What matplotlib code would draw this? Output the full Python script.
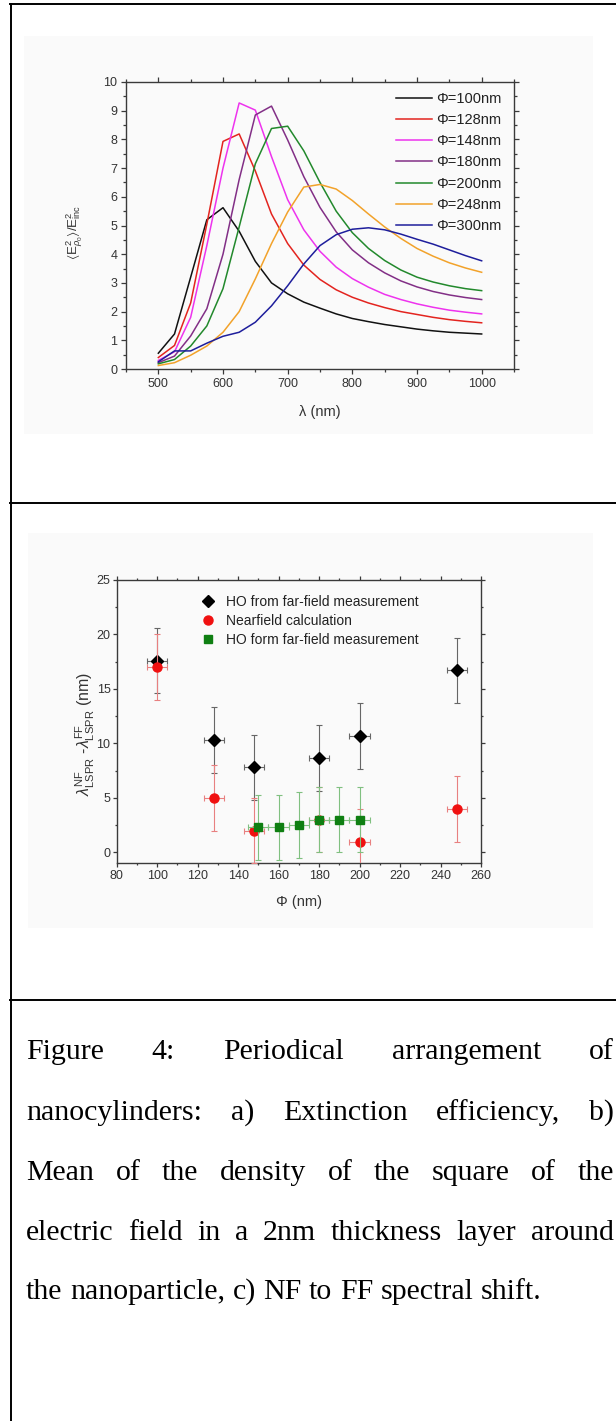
import matplotlib
matplotlib.use('Agg')
import matplotlib.pyplot as plt
from matplotlib.patches import Rectangle
from matplotlib.lines import Line2D
from matplotlib.ticker import MultipleLocator

plt.rcParams['font.family'] = ['Liberation Sans', 'DejaVu Sans']
plt.rcParams['mathtext.fontset'] = 'custom'
plt.rcParams['mathtext.rm'] = 'Liberation Sans'
plt.rcParams['mathtext.it'] = 'Liberation Sans:italic'
plt.rcParams['mathtext.bf'] = 'Liberation Sans:bold'
plt.rcParams['mathtext.fallback'] = 'stixsans'

# ---------------- data: panel (top) ----------------
wavelength = [500, 525, 550, 575, 600, 625, 650, 675, 700, 725, 750,
              775, 800, 825, 850, 875, 900, 925, 950, 975, 1000]
phi100 = [0.55, 1.22, 3.2, 5.2, 5.62, 4.8, 3.75, 3.0, 2.62, 2.33, 2.12,
          1.92, 1.76, 1.65, 1.55, 1.47, 1.39, 1.33, 1.28, 1.25, 1.22]
phi128 = [0.4, 0.82, 2.3, 5.05, 7.93, 8.19, 6.9, 5.4, 4.37, 3.62, 3.12,
          2.76, 2.5, 2.3, 2.14, 2.0, 1.9, 1.8, 1.72, 1.66, 1.61]
phi148 = [0.3, 0.6, 1.8, 4.3, 7.0, 9.27, 9.02, 7.4, 5.9, 4.85, 4.1,
          3.55, 3.15, 2.85, 2.6, 2.42, 2.27, 2.15, 2.05, 1.98, 1.92]
phi180 = [0.22, 0.45, 1.15, 2.1, 4.0, 6.6, 8.85, 9.16, 7.98, 6.7, 5.63,
          4.78, 4.15, 3.7, 3.35, 3.07, 2.86, 2.7, 2.58, 2.49, 2.42]
phi200 = [0.18, 0.33, 0.8, 1.5, 2.8, 4.95, 7.15, 8.38, 8.46, 7.6, 6.5,
          5.5, 4.75, 4.2, 3.78, 3.45, 3.2, 3.03, 2.9, 2.8, 2.73]
phi248 = [0.12, 0.22, 0.48, 0.8, 1.28, 2.0, 3.14, 4.37, 5.47, 6.34, 6.43,
          6.27, 5.87, 5.4, 4.95, 4.55, 4.2, 3.93, 3.7, 3.52, 3.37]
phi300 = [0.25, 0.63, 0.63, 0.9, 1.14, 1.28, 1.63, 2.2, 2.9, 3.66, 4.3,
          4.68, 4.87, 4.92, 4.85, 4.7, 4.52, 4.35, 4.15, 3.95, 3.77]
series_top = [phi100, phi128, phi148, phi180, phi200, phi248, phi300]
labels_top = ['Φ=100nm', 'Φ=128nm', 'Φ=148nm', 'Φ=180nm',
              'Φ=200nm', 'Φ=248nm', 'Φ=300nm']
colors_top = ['#111111', '#e3241f', '#ee33ee', '#822f86',
              '#22892c', '#f2a22a', '#1e1e9c']

# ---------------- data: panel (bottom) ----------------
ho_x = [100, 128, 148, 180, 200, 248]
ho_y = [17.6, 10.3, 7.8, 8.65, 10.7, 16.7]
ho_yerr = [3, 3, 3, 3, 3, 3]
nf_x = [100, 128, 148, 180, 200, 248]
nf_y = [17.0, 5.0, 2.0, 3.0, 1.0, 4.0]
nf_yerr = [3, 3, 3, 3, 3, 3]
ho2_x = [150, 160, 170, 180, 190, 200]
ho2_y = [2.3, 2.3, 2.5, 3.0, 3.0, 3.0]
ho2_yerr = [3, 3, 3, 3, 3, 3]
xerr_all = 5
labels_bottom = ['HO from far-field measurement', 'Nearfield calculation',
                 'HO form far-field measurement']

caption_lines = [
    "Figure 4: Periodical arrangement of",
    "nanocylinders: a) Extinction efficiency, b)",
    "Mean of the density of the square of the",
    "electric field in a 2nm thickness layer around",
    "the nanoparticle, c) NF to FF spectral shift.",
]

# ---------------- figure ----------------
W, H = 616, 1421
fig = plt.figure(figsize=(W / 100, H / 100), dpi=100)
fig.patch.set_facecolor('white')


def fx(px):
    return px / W


def fy(py):
    return 1 - py / H


# grey picture panels
for (x0, y0, x1, y1) in [(24, 36, 593, 434), (28, 533, 593, 928)]:
    fig.patches.append(Rectangle((fx(x0), fy(y1)), fx(x1) - fx(x0), fy(y0) - fy(y1),
                                 transform=fig.transFigure, facecolor='#fafafa',
                                 edgecolor='none', zorder=-5))

# table borders
blw = 1.4
fig.add_artist(Line2D([fx(10.5), fx(10.5)], [fy(4), 0], color='black', lw=blw))
for yy in [4, 503, 999.5]:
    fig.add_artist(Line2D([fx(10), 1], [fy(yy), fy(yy)], color='black', lw=blw))


def style(ax, labelsize, major_len, pad):
    for s in ax.spines.values():
        s.set_color('#3a3a3a')
        s.set_linewidth(1.0)
    ax.tick_params(which='both', direction='out', top=True, right=True,
                   colors='#3a3a3a', labelcolor='#333333', labelsize=labelsize,
                   width=0.9, pad=pad)
    ax.tick_params(which='major', length=major_len)
    ax.tick_params(which='minor', length=major_len * 0.55)
    ax.set_facecolor('none')


# ---------------- top axes ----------------
ax1 = fig.add_axes([fx(126), fy(369), fx(514) - fx(126), fy(82) - fy(369)])
for ys, lab, col in zip(series_top, labels_top, colors_top):
    ax1.plot(wavelength, ys, color=col, lw=1.1, label=lab)
ax1.set_xlim(450, 1050)
ax1.set_ylim(0, 10)
ax1.xaxis.set_major_locator(MultipleLocator(100))
ax1.xaxis.set_minor_locator(MultipleLocator(50))
ax1.yaxis.set_major_locator(MultipleLocator(1))
ax1.yaxis.set_minor_locator(MultipleLocator(0.5))
ax1.set_xticks([500, 600, 700, 800, 900, 1000])
style(ax1, 9, 3.8, 2.5)
ax1.set_xlabel('λ (nm)', fontsize=10.5, color='#333333')
ax1.xaxis.set_label_coords(0.5, -0.125)
ax1.set_ylabel(r'$\langle\mathrm{E}^2_{\rho_0}\rangle/\mathrm{E}^2_{\mathrm{inc}}$',
               fontsize=9.5, color='#333333')
ax1.yaxis.set_label_coords(-0.105, 0.477)
ax1.legend(loc='upper left', bbox_to_anchor=(0.695, 0.965), frameon=False,
           fontsize=10.5, handlelength=2.5, handletextpad=0.3,
           labelspacing=0.49, borderpad=0, borderaxespad=0,
           labelcolor='#222222')

# ---------------- bottom axes ----------------
ax2 = fig.add_axes([fx(116.7), fy(863.3), fx(481) - fx(116.7), fy(580) - fy(863.3)])
ax2.errorbar(ho_x, ho_y, yerr=ho_yerr, xerr=xerr_all, fmt='D', color='black',
             ms=6.5, ecolor='#666666', elinewidth=0.8, capsize=2.2, capthick=0.8,
             zorder=3)
ax2.errorbar(nf_x, nf_y, yerr=nf_yerr, xerr=xerr_all, fmt='o', color='#f01010',
             ms=6.5, ecolor='#e88080', elinewidth=0.8, capsize=2.2, capthick=0.8,
             zorder=4)
ax2.errorbar(ho2_x, ho2_y, yerr=ho2_yerr, xerr=xerr_all, fmt='s', color='#0f7f12',
             ms=5.5, ecolor='#80c080', elinewidth=0.8, capsize=2.2, capthick=0.8,
             zorder=5)
ax2.set_xlim(80, 260)
ax2.set_ylim(-1, 25)
ax2.xaxis.set_major_locator(MultipleLocator(20))
ax2.xaxis.set_minor_locator(MultipleLocator(10))
ax2.yaxis.set_major_locator(MultipleLocator(5))
ax2.yaxis.set_minor_locator(MultipleLocator(2.5))
style(ax2, 9, 3.0, 1.5)
ax2.set_xlabel('Φ (nm)', fontsize=10.5, color='#333333')
ax2.xaxis.set_label_coords(0.5, -0.112)
ax2.set_ylabel(r'$\lambda^{\mathrm{NF}}_{\mathrm{LSPR}}$ -$\lambda^{\mathrm{FF}}_{\mathrm{LSPR}}$ (nm)',
               fontsize=11.5, color='#333333')
ax2.yaxis.set_label_coords(-0.055, 0.456)
handles = [Line2D([], [], ls='none', marker='D', color='black', ms=6.5),
           Line2D([], [], ls='none', marker='o', color='#f01010', ms=6.5),
           Line2D([], [], ls='none', marker='s', color='#0f7f12', ms=5.5)]
ax2.legend(handles, labels_bottom, loc='upper left', bbox_to_anchor=(0.225, 0.948),
           frameon=False, fontsize=10, handlelength=1.4, handletextpad=0.55,
           labelspacing=0.36, borderpad=0, borderaxespad=0, labelcolor='#222222')

# ---------------- caption (justified) ----------------
cap_font = dict(family=['Liberation Serif', 'DejaVu Serif'], size=21.5, color='black')
renderer = fig.canvas.get_renderer()


def text_width(s):
    t = fig.text(0, 0, s, **cap_font)
    w = t.get_window_extent(renderer).width
    t.remove()
    return w


space_w = text_width('a a') - 2 * text_width('a')
x_left, x_right = 26, 614
baselines = [1059, 1120, 1180, 1239.5, 1299]
for i, (line, base) in enumerate(zip(caption_lines, baselines)):
    words = line.split(' ')
    widths = [text_width(w) for w in words]
    if i < len(caption_lines) - 1:
        gap = (x_right - x_left - sum(widths)) / (len(words) - 1)
    else:
        gap = space_w
    x = x_left
    for w, wd in zip(words, widths):
        fig.text(fx(x), fy(base), w, ha='left', va='baseline', **cap_font)
        x += wd + gap

fig.savefig('out.png', dpi=100, facecolor='white')
